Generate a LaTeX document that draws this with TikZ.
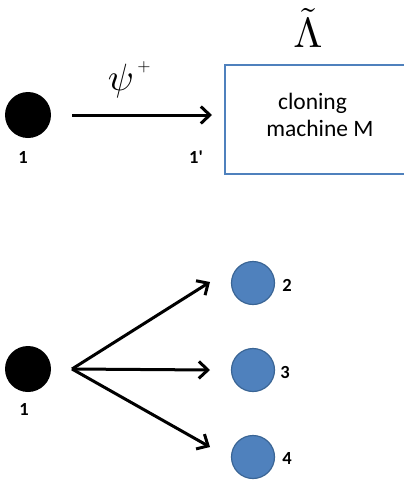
\documentclass[tikz,border=0pt]{standalone}
\usepackage{fontspec}
\setmainfont{Carlito}
\usetikzlibrary{arrows.meta}
\definecolor{offblue}{HTML}{4F81BD}
\definecolor{offblueD}{HTML}{3A6595}
\begin{document}
\begin{tikzpicture}[x=1pt,y=-1pt,
  blackdot/.style={circle,fill=black,minimum size=46pt,inner sep=0pt},
  bluedot/.style={circle,fill=offblue,draw=offblueD,line width=1.2pt,minimum size=43pt,inner sep=0pt},
  lbl/.style={font=\fontsize{18.5}{18.5}\selectfont\bfseries,inner sep=0pt},
  arr/.style={line width=3pt,-{Straight Barb[length=9pt,width=17pt,line width=3pt]}},
  mach/.style={draw=offblue,line width=1.5pt,minimum width=200pt,minimum height=109pt,inner sep=0pt,anchor=north west},
  machtxt/.style={inner sep=0pt,font=\fontsize{23.5}{23.5}\selectfont},
  bigmath/.style={inner sep=0pt}
]
\useasboundingbox (0,0) rectangle (404,483);
% top part
\node[blackdot] (a1) at (28,115) {};
\node[lbl] (l1) at (23,157) {1};
\coordinate (s1) at (72,115);
\coordinate (e1) at (212,115);
\draw[arr] (s1) -- (e1);
\node[bigmath,scale=3.8] (psi) at (121,81) {$\psi$};
\node[bigmath,scale=1.7] (plus) at (144,67) {$+$};
\node[lbl] (l1p) at (196,157) {1\textquotesingle};
\node[mach] (box) at (224,64) {};
\node[bigmath,scale=4.2] (lam) at (308,28) {$\tilde{\Lambda}$};
\node[machtxt] (t1) at (312.5,103) {cloning};
\node[machtxt] (t2) at (320,128) {machine M};
% bottom part
\node[blackdot] (b1) at (28,369) {};
\node[lbl] (lb1) at (24,409) {1};
\coordinate (o) at (72,369);
\node[bluedot] (c2) at (253,283) {};
\node[bluedot] (c3) at (253,370) {};
\node[bluedot] (c4) at (253,457) {};
\coordinate (t2) at (210,282);
\coordinate (t3) at (210,370);
\coordinate (t4) at (210,447);
\draw[arr] (o) -- (t2);
\draw[arr] (o) -- (t3);
\draw[arr] (o) -- (t4);
\node[lbl] (n2) at (287,285) {2};
\node[lbl] (n3) at (285,372) {3};
\node[lbl] (n4) at (287,458) {4};
\end{tikzpicture}
\end{document}
